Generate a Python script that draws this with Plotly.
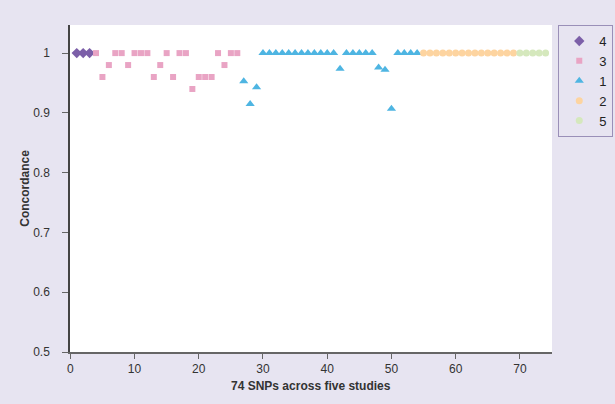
import plotly.graph_objects as go

# Study 4
s4_x = [1, 2, 3]
s4_y = [1, 1, 1]
# Study 3
s3_x = list(range(4, 27))
s3_y = [1, 0.96, 0.98, 1, 1, 0.98, 1, 1, 1, 0.96, 0.98, 1, 0.96, 1, 1, 0.94,
        0.96, 0.96, 0.96, 1, 0.98, 1, 1]
# Study 1
s1_x = list(range(27, 55))
s1_y = [0.953, 0.915, 0.943, 1, 1, 1, 1, 1, 1, 1, 1, 1, 1, 1, 1, 0.974,
        1, 1, 1, 1, 1, 0.976, 0.972, 0.907, 1, 1, 1, 1]
# Study 2
s2_x = list(range(55, 70))
s2_y = [1] * 15
# Study 5
s5_x = list(range(70, 75))
s5_y = [1] * 5

x_title = "74 SNPs across five studies"
y_title = "Concordance"

series = [
    ("4", s4_x, s4_y, "diamond", "#7c5fa8", 8),
    ("3", s3_x, s3_y, "square", "#e9a4c4", 6),
    ("1", s1_x, s1_y, "triangle-up", "#4eb5e2", 8),
    ("2", s2_x, s2_y, "circle", "#fdd4a0", 7),
    ("5", s5_x, s5_y, "circle", "#d5e8bd", 7),
]

fig = go.Figure()
for name, xs, ys, sym, col, sz in series:
    fig.add_trace(go.Scatter(x=xs, y=ys, mode="markers", name=name,
                             marker=dict(symbol=sym, color=col, size=sz, line=dict(width=0))))

fig.update_layout(
    width=615, height=404,
    margin=dict(l=69.5, r=62.5, t=25, b=51.5, autoexpand=False),
    paper_bgcolor="#e7e4f1",
    plot_bgcolor="#ffffff",
    font=dict(family="Liberation Sans, Arial, sans-serif", color="#333333", size=12),
    showlegend=True,
    legend=dict(x=1.013, y=1, xanchor="left", yanchor="top",
                bgcolor="#e7e4f1", bordercolor="#9a8fb8", borderwidth=1,
                font=dict(size=13, color="#222222"), tracegroupgap=0,
                itemwidth=30),
    xaxis=dict(range=[-0.05, 75], tickvals=[0, 10, 20, 30, 40, 50, 60, 70],
               showgrid=False, zeroline=False, showline=True, linecolor="#666666",
               linewidth=1.5, ticks="outside", ticklen=5, tickcolor="#666666",
               tickfont=dict(size=12, color="#333333"), automargin=False),
    yaxis=dict(range=[0.5, 1.047], tickvals=[0.5, 0.6, 0.7, 0.8, 0.9, 1],
               ticktext=["0.5", "0.6", "0.7", "0.8", "0.9", "1"],
               ticklabelstandoff=10,
               showgrid=False, zeroline=False, showline=True, linecolor="#444444",
               linewidth=1.5, ticks="outside", ticklen=6, tickcolor="#666666",
               tickfont=dict(size=12, color="#333333"), automargin=False),
    annotations=[
        dict(text="<b>" + x_title + "</b>", xref="paper", yref="paper",
             x=0.5, y=-0.104, xanchor="center", yanchor="middle", showarrow=False,
             font=dict(size=12, color="#333333")),
        dict(text="<b>" + y_title + "</b>", xref="paper", yref="paper",
             x=-0.095, y=0.5, xanchor="center", yanchor="middle", showarrow=False,
             textangle=-90, font=dict(size=12, color="#333333")),
    ],
)

fig.write_html("out.html", config={"displayModeBar": False},
               post_script="document.body.style.margin='0';document.body.style.padding='0';")
